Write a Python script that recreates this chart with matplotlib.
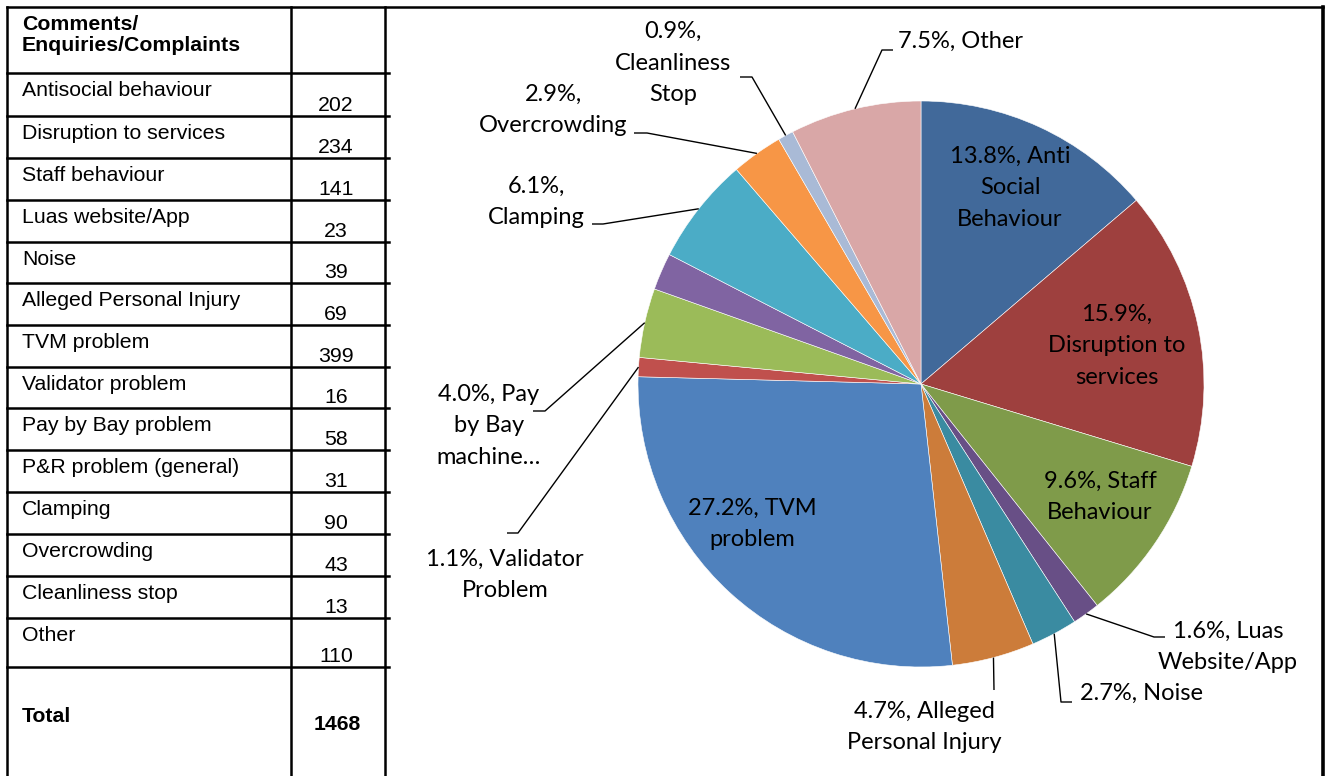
import numpy as np
import matplotlib.pyplot as plt

## data from the table (counts), the pie is drawn from the same numbers
categories = ['Antisocial behaviour', 'Disruption to services', 'Staff behaviour',
              'Luas website/App', 'Noise', 'Alleged Personal Injury', 'TVM problem',
              'Validator problem', 'Pay by Bay problem', 'P&R problem (general)',
              'Clamping', 'Overcrowding', 'Cleanliness stop', 'Other']
counts = [202, 234, 141, 23, 39, 69, 399, 16, 58, 31, 90, 43, 13, 110]

## pie label text ({p} gets the percentage), None = no label
pie_labels = ['{p}, Anti\nSocial\nBehaviour', '{p},\nDisruption to\nservices',
              '{p}, Staff\nBehaviour', '{p}, Luas\nWebsite/App', '{p}, Noise',
              '{p}, Alleged\nPersonal Injury', '{p}, TVM\nproblem',
              '{p}, Validator\nProblem', '{p}, Pay\nby Bay\nmachine\u2026', None,
              '{p},\nClamping', '{p},\nOvercrowding', '{p},\nCleanliness\nStop',
              '{p}, Other']
pie_colors = ['#41699A', '#9E403E', '#7F9B4A', '#684F86', '#3A8BA1', '#CC7C3A',
              '#4F81BD', '#C0504D', '#9BBB59', '#8064A2', '#4BACC6', '#F79646',
              '#A9BAD6', '#D9A7A7']

## label layout in pixels: text centre, then leader elbow + end (None = inside)
label_pos = [(1010, 188), (1117, 346), (1100, 497), (1228, 647), (1141, 693),
             (924, 727), (752, 524), (505, 575), (489, 426), None,
             (536, 202), (553, 110), (673, 63), (961, 41)]
leaders = [None, None, None, [(1154, 637), (1165, 637)], [(1061, 702), (1072, 702)],
           [(994, 690)], None, [(518, 533), (507, 533)], [(545, 411), (533, 411)], None,
           [(603, 224), (592, 224)], [(647, 133), (634, 133)], [(752, 77), (740, 77)],
           [(882, 50), (893, 50)]]

W, H = 1328, 776
fig = plt.figure(figsize=(W / 100, H / 100), dpi=100)
ax = fig.add_axes([0, 0, 1, 1])

total = sum(counts)
cx, cy, r = 921, 384, 283

## y is inverted below, so counterclockwise in data = clockwise on screen
wedges, _ = ax.pie(counts, colors=pie_colors, center=(cx, cy), radius=r,
                   startangle=-90, counterclock=True,
                   wedgeprops=dict(edgecolor='white', linewidth=0.4))

pie_font = dict(family='Lato', fontsize=17, color='black')
for w, cnt, lab, pos, lead in zip(wedges, counts, pie_labels, label_pos, leaders):
    if lab is None:
        continue
    pct = f'{100 * cnt / total:.1f}%'
    ax.text(pos[0], pos[1], lab.format(p=pct), ha='center', va='center',
            linespacing=1.6, **pie_font)
    if lead:
        mid = np.deg2rad((w.theta1 + w.theta2) / 2)
        xs = [cx + r * np.cos(mid)] + [p[0] for p in lead]
        ys = [cy + r * np.sin(mid)] + [p[1] for p in lead]
        ax.plot(xs, ys, color='black', linewidth=1.0, solid_capstyle='butt')

## table on the left
row_lines = [73, 116, 158, 200, 242, 283, 325, 367, 408, 450, 492, 534, 576, 618, 667]
tfont = dict(family='Liberation Sans', fontsize=15.3, color='black')
lw = 1.8
ax.plot([7, 1323], [7, 7], color='black', linewidth=lw)
for y in row_lines:
    ax.plot([7, 389], [y, y], color='black', linewidth=lw)
for x in [7, 291, 385]:
    ax.plot([x, x], [7, H], color='black', linewidth=lw)
ax.plot([1323, 1323], [7, H], color='black', linewidth=2.6)

ax.text(22, 30, 'Comments/', ha='left', va='baseline', fontweight='bold', **tfont)
ax.text(22, 51, 'Enquiries/Complaints', ha='left', va='baseline', fontweight='bold', **tfont)
for i, (cat, cnt) in enumerate(zip(categories, counts)):
    top, bot = row_lines[i], row_lines[i + 1]
    ax.text(22, top + 23, cat, ha='left', va='baseline', **tfont)
    ax.text(336, bot - 5, str(cnt), ha='center', va='baseline', **tfont)
ax.text(22, 722, 'Total', ha='left', va='baseline', fontweight='bold', **tfont)
ax.text(337, 730, str(total), ha='center', va='baseline', fontweight='bold', **tfont)

ax.set_xlim(0, W)
ax.set_ylim(H, 0)
ax.set_aspect('auto')
ax.axis('off')

fig.savefig('out.png', dpi=100)
